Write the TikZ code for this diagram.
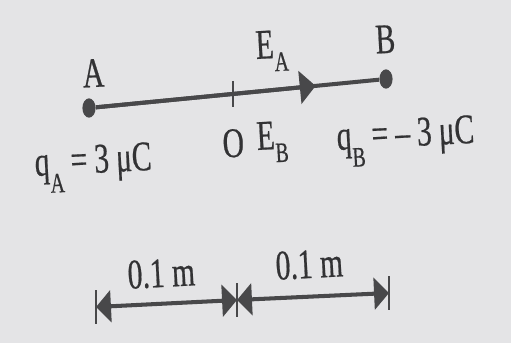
\documentclass[tikz,border=0pt]{standalone}
\usepackage{fontspec}
\setmainfont{Liberation Serif}[FakeStretch=0.7, FakeBold=0.5]
\usetikzlibrary{positioning, arrows.meta, calc, shapes.geometric}
\definecolor{cL}{RGB}{72,72,74}
\definecolor{cT}{RGB}{50,50,52}
\definecolor{cP}{RGB}{228,228,230}
\newcommand{\lowsub}[2][-7.5pt]{\raisebox{#1}{\fontsize{16}{16}\selectfont #2}}

\begin{document}
\begin{tikzpicture}[x=0.02cm, y=-0.02cm,
    charge/.style={ellipse, fill=cL, inner sep=0pt, minimum width=7.5pt, minimum height=11pt},
    rod/.style={draw=cL, line width=2.3pt},
    tick/.style={draw=cL, line width=1.2pt},
    lbl/.style={text=cT, font=\fontsize{24}{28}\selectfont, inner sep=0pt, rotate=3},
    tip/.style={-{Triangle[length=9pt, width=18.5pt]}},
    dimtips/.style={{Triangle[length=8.5pt, width=18pt]}-{Triangle[length=8.5pt, width=18pt]}}]
    \fill[cP] (0,0) rectangle (511,343);

    % charges and the line between them
    \node[charge] (A) at (89,108) {};
    \node[charge] (B) at (386,79) {};
    \coordinate (O) at ($(A)!0.485!(B)$);
    \coordinate (EA) at ($(A)!0.763!(B)$);
    \draw[rod] (A) -- (B);
    \draw[rod, tip] (A) -- (EA);
    \draw[tick] ($(O)+(0,-13)$) -- ($(O)+(0,13)$);

    \node[lbl, anchor=base] (labA) at (94,87) {A};
    \node[lbl, anchor=base] (labB) at (386,53) {B};
    \node[lbl, anchor=base west] (labEA) at (256,59) {E\lowsub{A}};
    \node[lbl, anchor=base] (labO) at (234,157) {O};
    \node[lbl, anchor=base west] (labEB) at (257,150) {E\lowsub{B}};
    \node[lbl, anchor=base west] (qA) at (35,176) {q\lowsub[-10pt]{A}\,=\,3\,μC};
    \node[lbl, anchor=base west] (qB) at (337,150) {q\lowsub[-10pt]{B}\,=\,–\,3\,μC};

    % distances
    \coordinate (L) at (96,307);
    \coordinate (M) at (237,300);
    \coordinate (R) at (389,293);
    \foreach \p in {L,M,R}
        \draw[tick] ($(\p)+(0,-17)$) -- ($(\p)+(0,17)$);
    \draw[rod, dimtips] (L) -- (M);
    \draw[rod, dimtips] (M) -- (R);
    \node[lbl, anchor=base] (dLM) at (162,287) {0.1 m};
    \node[lbl, anchor=base] (dMR) at (310,278) {0.1 m};
\end{tikzpicture}
\end{document}
